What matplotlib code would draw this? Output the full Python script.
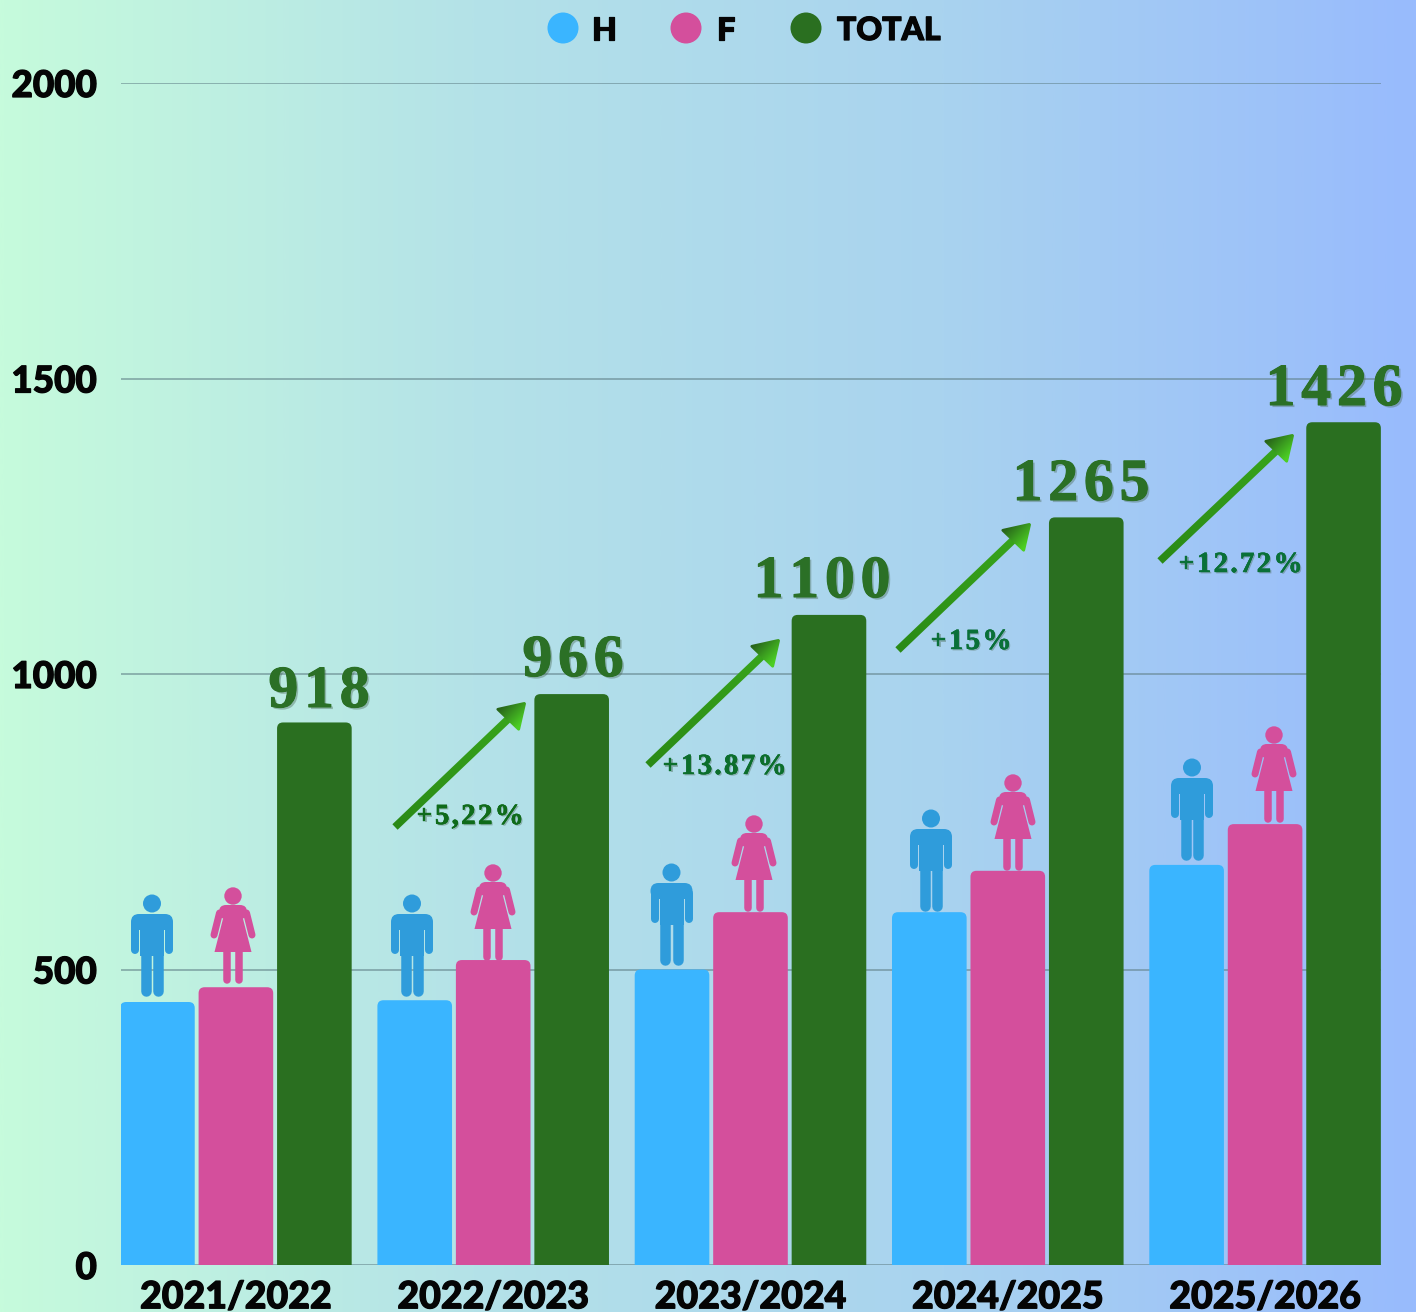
import numpy as np
import matplotlib
matplotlib.use('Agg')
import matplotlib.pyplot as plt
import matplotlib.patheffects as pe
from matplotlib.colors import LinearSegmentedColormap
from matplotlib.font_manager import FontProperties
from matplotlib.patches import Circle, FancyBboxPatch, Polygon
from matplotlib.path import Path
from matplotlib.textpath import TextToPath

# Dados
saisons = ['2021/2022', '2022/2023', '2023/2024', '2024/2025', '2025/2026']
hommes = [445, 448, 500, 597, 677]
femmes = [470, 516, 597, 667, 746]
total = [918, 966, 1100, 1265, 1426]
hausses = ['+5,22%', '+13.87%', '+15%', '+12.72%']
graduations = [0, 500, 1000, 1500, 2000]

# Couleurs
c_h = '#3ab5ff'
c_f = '#d44f9c'
c_t = '#2a6f20'
c_homme = '#2f9cdb'

W, H = 1416, 1312
fig = plt.figure(figsize=(W / 100, H / 100), dpi=100)

# Fond en degrade horizontal
fond = fig.add_axes([0, 0, 1, 1], zorder=0)
degrade = LinearSegmentedColormap.from_list('fond', ['#c6fbdc', '#b4e2e8', '#a9d3ef', '#98bbfd'])
fond.imshow(np.linspace(0, 1, 512).reshape(1, -1), cmap=degrade, aspect='auto')
fond.axis('off')

# Axe principal
x0, x1 = 120.5, 1381.0
y_haut, y_bas = 83.0, 1265.0
ax = fig.add_axes([x0 / W, 1 - y_bas / H, (x1 - x0) / W, (y_bas - y_haut) / H], zorder=1)
ax.patch.set_alpha(0)
ax.set_xlim(-0.4485, 4.4505)
ax.set_ylim(0, 2000)
for s in ax.spines.values():
    s.set_visible(False)

police_ticks = dict(family='Lato', fontweight='black')
epais = [pe.withStroke(linewidth=0.9, foreground='#050505')]
ax.set_yticks(graduations)
ax.set_yticklabels(graduations, fontsize=26.5, color='#050505', path_effects=epais, **police_ticks)
ax.set_xticks(range(len(saisons)))
ax.set_xticklabels(saisons, fontsize=27, color='#050505', path_effects=epais, **police_ticks)
ax.tick_params(length=0)
ax.tick_params(axis='y', pad=17)
ax.tick_params(axis='x', pad=11)
ax.grid(axis='y', color='#5f7f86', alpha=0.6, linewidth=1.3, zorder=0)
ax.set_axisbelow(True)

# Barres aux coins arrondis
largeur = 0.29
pas = 0.305
px_x = (x1 - x0) / (ax.get_xlim()[1] - ax.get_xlim()[0])
px_y = (y_bas - y_haut) / 2000
for i in range(len(saisons)):
    for j, (serie, coul) in enumerate([(hommes, c_h), (femmes, c_f), (total, c_t)]):
        gauche = i + (j - 1) * pas - largeur / 2
        barre = FancyBboxPatch((gauche, -60), largeur, serie[i] + 60,
                               boxstyle='round,pad=0,rounding_size=%f' % (6 / px_x),
                               mutation_aspect=px_x / px_y,
                               facecolor=coul, edgecolor='none', zorder=3)
        ax.add_patch(barre)

# Couche en pixels pour les decorations
deco = fig.add_axes([0, 0, 1, 1], zorder=2)
deco.patch.set_alpha(0)
deco.axis('off')


def trait(xs, ys, larg, coul):
    deco.plot(xs, ys, color=coul, linewidth=larg * 0.72, solid_capstyle='round', zorder=5)


def homme(cx, fy):
    deco.add_patch(Circle((cx, fy - 92.5), 9, facecolor=c_homme, edgecolor='none', zorder=5))
    deco.add_patch(FancyBboxPatch((cx - 21, fy - 82), 42, 16, boxstyle='round,pad=0,rounding_size=8',
                                  facecolor=c_homme, edgecolor='none', zorder=5))
    deco.add_patch(Polygon([(cx - 12, fy - 72), (cx + 12, fy - 72), (cx + 12, fy - 40), (cx - 12, fy - 40)],
                           facecolor=c_homme, edgecolor='none', zorder=5))
    trait([cx - 17, cx - 17], [fy - 72, fy - 46], 8, c_homme)
    trait([cx + 17, cx + 17], [fy - 72, fy - 46], 8, c_homme)
    trait([cx - 6.3, cx - 6.3], [fy - 42, fy - 5], 10.5, c_homme)
    trait([cx + 6.3, cx + 6.3], [fy - 42, fy - 5], 10.5, c_homme)


def femme(cx, fy):
    deco.add_patch(Circle((cx, fy - 87), 8.7, facecolor=c_f, edgecolor='none', zorder=5))
    deco.add_patch(FancyBboxPatch((cx - 14, fy - 78), 28, 14, boxstyle='round,pad=0,rounding_size=7',
                                  facecolor=c_f, edgecolor='none', zorder=5))
    deco.add_patch(Polygon([(cx - 8, fy - 72), (cx + 8, fy - 72), (cx + 18.5, fy - 31), (cx - 18.5, fy - 31)],
                           facecolor=c_f, edgecolor='none', zorder=5))
    trait([cx - 13.5, cx - 19], [fy - 70, fy - 48], 7, c_f)
    trait([cx + 13.5, cx + 19], [fy - 70, fy - 48], 7, c_f)
    trait([cx - 5.6, cx - 5.6], [fy - 33, fy - 3.5], 7.5, c_f)
    trait([cx + 5.6, cx + 5.6], [fy - 33, fy - 3.5], 7.5, c_f)


for cx, fy in zip([152, 412, 671.5, 931, 1192], [996, 996, 965, 911, 860]):
    homme(cx, fy)
for cx, fy in zip([233, 493, 754, 1013, 1274], [983, 960, 911, 870, 822]):
    femme(cx, fy)


def degrade_clip(chemin, cmap, direction, origine, longueur):
    # image en degrade decoupee par le chemin
    xa, ya = chemin.vertices.min(axis=0) - 2
    xb, yb = chemin.vertices.max(axis=0) + 2
    XX, YY = np.meshgrid(np.linspace(xa, xb, 120), np.linspace(ya, yb, 120))
    t = ((XX - origine[0]) * direction[0] + (YY - origine[1]) * direction[1]) / longueur
    im = deco.imshow(np.clip(t, 0, 1), cmap=cmap, vmin=0, vmax=1, aspect='auto',
                     extent=[xa, xb, yb, ya], zorder=6, interpolation='bilinear')
    im.set_clip_path(chemin, transform=deco.transData)


def coin_arrondi(points, r=3.0):
    verts, codes = [], []
    n = len(points)
    for k in range(n):
        p = np.array(points[k], dtype=float)
        a = np.array(points[k - 1], dtype=float)
        b = np.array(points[(k + 1) % n], dtype=float)
        pa = p + (a - p) / np.linalg.norm(a - p) * r
        pb = p + (b - p) / np.linalg.norm(b - p) * r
        verts += [pa, p, pb]
        codes += [Path.MOVETO if k == 0 else Path.LINETO, Path.CURVE3, Path.CURVE3]
    verts.append(verts[0])
    codes.append(Path.CLOSEPOLY)
    return Path(verts, codes)


cm_tige = LinearSegmentedColormap.from_list('tige', ['#2a8a16', '#3aa81c'])
cm_tete = LinearSegmentedColormap.from_list('tete', ['#28641a', '#4ccf24'])


def fleche(xa, ya, xb, yb):
    d = np.array([xb - xa, yb - ya], dtype=float)
    L = np.linalg.norm(d)
    u = d / L
    n = np.array([-u[1], u[0]])
    ep = 3.8
    fin = np.array([xb, yb]) - u * 18
    deb = np.array([xa, ya])
    tige = Path([deb + n * ep, fin + n * ep, fin - n * ep, deb - n * ep, deb + n * ep],
                [Path.MOVETO, Path.LINETO, Path.LINETO, Path.LINETO, Path.CLOSEPOLY])
    degrade_clip(tige, cm_tige, u, deb, L)
    tete = coin_arrondi([(xb + 1.5, yb - 1.5), (xb - 5.5, yb + 29), (xb - 30, yb + 5.5)])
    perp = np.array([0.707, 0.707])
    degrade_clip(tete, cm_tete, perp, (xb - 20, yb + 0), 26)


def texte_espace(x, y, s, fp, esp, coul, centre=True, shadow=1.5, gras=0.0):
    # texte lettre par lettre pour garder l'espacement des chiffres
    ttp = TextToPath()
    l = [ttp.get_text_width_height_descent(c, fp, False)[0] * 100 / 72 for c in s]
    tot = sum(l) + esp * (len(s) - 1)
    cur = x - tot / 2 if centre else x
    effets = [pe.withSimplePatchShadow(offset=(shadow, -shadow), shadow_rgbFace='#4a6a55', alpha=0.4)]
    if gras:
        effets.append(pe.withStroke(linewidth=gras, foreground=coul))
    else:
        effets.append(pe.Normal())
    for c, w in zip(s, l):
        deco.text(cur, y, c, fontproperties=fp, color=coul, va='baseline', ha='left',
                  zorder=7, path_effects=effets)
        cur += w + esp


fp_grand = FontProperties(family='Liberation Serif', weight='bold', size=43)
fp_petit = FontProperties(family='Liberation Serif', weight='bold', size=21)

for x, y, v in zip([319, 573, 822, 1081, 1334], [707, 676, 597, 500, 405], total):
    texte_espace(x, y, str(v), fp_grand, 5.8, '#2b7026', gras=0.8)

for (xa, ya, xb, yb) in [(395, 827, 525, 703), (648, 765, 779, 640), (898, 650, 1030, 524), (1160, 561, 1293, 435)]:
    fleche(xa, ya, xb, yb)

for x, y, s, c in zip([416, 662, 930, 1178], [824, 774, 649, 572], hausses,
                      ['#0f6b1a', '#0c6e2c', '#0a7038', '#0a7038']):
    texte_espace(x, y, s, fp_petit, 2.2, c, centre=False, shadow=1, gras=0.3)

# Legende
for cx, coul, nom, xt in zip([563, 686, 806], [c_h, c_f, c_t], ['H', 'F', 'TOTAL'], [592, 717, 837]):
    deco.add_patch(Circle((cx, 28), 15.5, facecolor=coul, edgecolor='none', zorder=5))
    deco.text(xt, 40, nom, fontsize=23, color='#050505', va='baseline', ha='left', zorder=5,
              path_effects=epais, **police_ticks)

deco.set_xlim(0, W)
deco.set_ylim(H, 0)

fig.savefig('out.png', dpi=100)
